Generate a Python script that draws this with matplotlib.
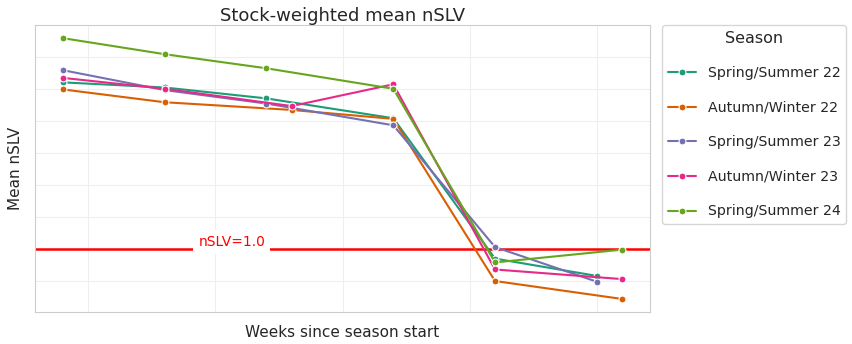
import matplotlib
matplotlib.use("Agg")
import matplotlib.pyplot as plt
import seaborn as sns

# weeks since season start per season, and mean nSLV
seasons = ["Spring/Summer 22", "Autumn/Winter 22", "Spring/Summer 23",
           "Autumn/Winter 23", "Spring/Summer 24"]
weeks = {
    "Spring/Summer 22": [4, 8, 12, 17, 21, 25],
    "Autumn/Winter 22": [4, 8, 13, 17, 21, 26],
    "Spring/Summer 23": [4, 8, 12, 17, 21, 25],
    "Autumn/Winter 23": [4, 8, 13, 17, 21, 26],
    "Spring/Summer 24": [4, 8, 12, 17, 21, 26],
}
nslv = {
    "Spring/Summer 22": [3.60, 3.52, 3.35, 3.04, 0.85, 0.58],
    "Autumn/Winter 22": [3.49, 3.29, 3.17, 3.03, 0.50, 0.22],
    "Spring/Summer 23": [3.79, 3.48, 3.27, 2.93, 1.03, 0.49],
    "Autumn/Winter 23": [3.67, 3.50, 3.23, 3.57, 0.68, 0.53],
    "Spring/Summer 24": [4.29, 4.04, 3.82, 3.50, 0.79, 0.99],
}
threshold = 1.0

sns.set_style("whitegrid")
colors = sns.color_palette("Dark2", len(seasons))

fig = plt.figure(figsize=(8.52, 3.44), dpi=100)
ax = fig.add_axes([0.041, 0.093, 0.722, 0.834])

for s, c in zip(seasons, colors):
    ax.plot(weeks[s], nslv[s], color=c, marker="o", markersize=5,
            markeredgecolor="white", markeredgewidth=0.8, linewidth=1.5, label=s)

ax.axhline(threshold, color="red", linewidth=1.8, zorder=1)
ax.text(0.32, threshold, f"nSLV={threshold}", color="red", fontsize=10,
        transform=ax.get_yaxis_transform(), ha="center", va="bottom",
        bbox=dict(facecolor="white", edgecolor="none", pad=3.5))

ax.set_xticklabels([])
ax.set_yticklabels([])
ax.tick_params(length=0)
ax.set_title("Stock-weighted mean nSLV", fontsize=13, pad=3)
ax.set_xlabel("Weeks since season start", fontsize=11, labelpad=6)
ax.set_ylabel("Mean nSLV", fontsize=11, labelpad=5)
ax.grid(color="#eeeeee", linewidth=0.8)
for sp in ax.spines.values():
    sp.set_color("#cccccc")

ax.legend(title="Season", bbox_to_anchor=(1.02, 1.0), loc="upper left",
          fontsize=10.2, title_fontsize=11.5, labelspacing=1.45, borderaxespad=0)

fig.savefig("out.png", dpi=100)
